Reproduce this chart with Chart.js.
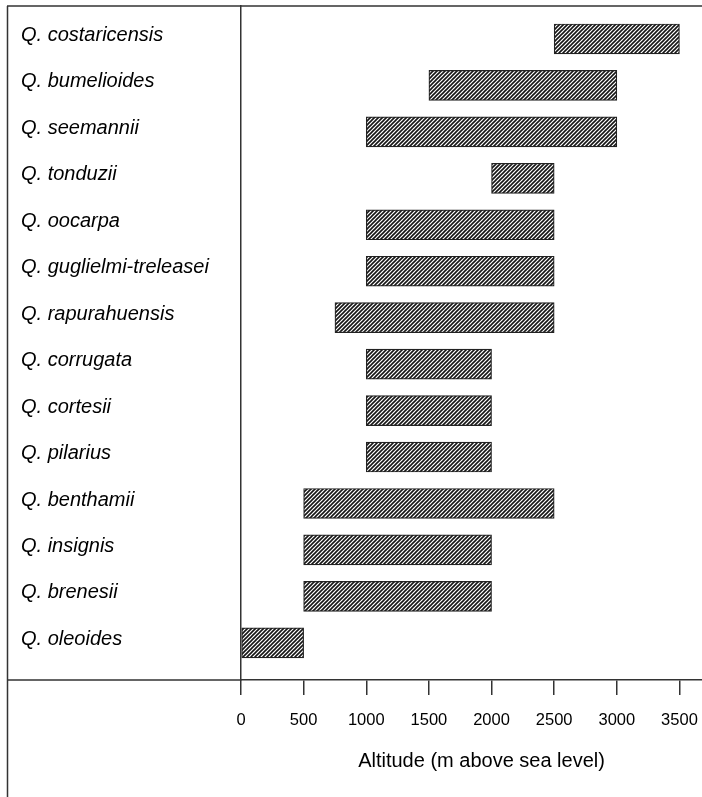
<!DOCTYPE html>
<html>
<head>
<meta charset="utf-8">
<script src="https://cdn.jsdelivr.net/npm/chart.js@4/dist/chart.umd.min.js"></script>
<style>
  html, body { margin: 0; padding: 0; background: #fff; }
  #wrap { width: 702px; height: 797px; position: relative; }
</style>
</head>
<body>
<div id="wrap"><canvas id="c" width="702" height="797"></canvas></div>
<script>
// Oak species of Costa Rica and their altitudinal ranges (m a.s.l.)
const species = [
  'Q. costaricensis', 'Q. bumelioides', 'Q. seemannii', 'Q. tonduzii',
  'Q. oocarpa', 'Q. guglielmi-treleasei', 'Q. rapurahuensis', 'Q. corrugata',
  'Q. cortesii', 'Q. pilarius', 'Q. benthamii', 'Q. insignis',
  'Q. brenesii', 'Q. oleoides'
];
const lowAltitude  = [2500, 1500, 1000, 2000, 1000, 1000, 750, 1000, 1000, 1000, 500, 500, 500, 0];
const highAltitude = [3500, 3000, 3000, 2500, 2500, 2500, 2500, 2000, 2000, 2000, 2500, 2000, 2000, 500];
const altitudeTicks = [0, 500, 1000, 1500, 2000, 2500, 3000, 3500];
const axisTitle = 'Altitude (m above sea level)';

const FONT = "'Liberation Sans', Arial, sans-serif";
const LINE = '#333333';
const TITLE_SPAN = 3840; // axis title is centred over 0..3840 m

// diagonal hatch fill
function hatchPattern() {
  const s = 4;
  const tile = document.createElement('canvas');
  tile.width = s; tile.height = s;
  const t = tile.getContext('2d');
  t.fillStyle = '#ffffff';
  t.fillRect(0, 0, s, s);
  t.strokeStyle = '#151515';
  t.lineWidth = 1.6;
  t.beginPath();
  t.moveTo(-1, s + 1); t.lineTo(s + 1, -1);
  t.moveTo(-1, 1); t.lineTo(1, -1);
  t.moveTo(s - 1, s + 1); t.lineTo(s + 1, s - 1);
  t.stroke();
  return t.createPattern(tile, 'repeat');
}

// outer frame (left rule, top rule, separator under the species list) and the axis title
const framePlugin = {
  id: 'frame',
  afterDraw(chart) {
    const ctx = chart.ctx;
    const area = chart.chartArea;
    const xs = chart.scales.x;
    ctx.save();
    ctx.strokeStyle = LINE;
    ctx.lineWidth = 1.5;
    ctx.beginPath();
    ctx.moveTo(7.5, area.top);
    ctx.lineTo(7.5, chart.height);
    ctx.moveTo(7, area.top);
    ctx.lineTo(chart.width, area.top);
    ctx.moveTo(7, area.bottom);
    ctx.lineTo(area.left, area.bottom);
    ctx.stroke();

    ctx.fillStyle = '#000';
    ctx.font = '20px ' + FONT;
    ctx.textAlign = 'center';
    ctx.textBaseline = 'middle';
    ctx.fillText(axisTitle, xs.getPixelForValue(TITLE_SPAN / 2), xs.bottom - 36);
    ctx.restore();
  }
};

const rows = species.map((name, i) => ({ y: i, x: [lowAltitude[i], highAltitude[i]] }));

new Chart(document.getElementById('c'), {
  type: 'bar',
  data: {
    datasets: [{
      data: rows,
      backgroundColor: hatchPattern(),
      borderColor: '#222222',
      borderWidth: 1.2,
      borderSkipped: false,
      barThickness: 30
    }]
  },
  options: {
    indexAxis: 'y',
    responsive: false,
    animation: false,
    devicePixelRatio: 1,
    layout: { padding: { left: 21, top: 6, right: 0, bottom: 0 } },
    plugins: { legend: { display: false }, tooltip: { enabled: false } },
    scales: {
      y: {
        type: 'linear',
        reverse: true,
        offset: false,
        min: -0.71,
        max: 13.8,
        afterBuildTicks: (scale) => { scale.ticks = species.map((_, i) => ({ value: i })); },
        afterFit: (scale) => {
          scale.width = 220;
          scale.paddingTop = 0;
          scale.paddingBottom = 0;
        },
        grid: { display: false, offset: false },
        border: { display: true, color: LINE, width: 1.5 },
        ticks: {
          crossAlign: 'far',
          labelOffset: -3.5,
          color: '#000',
          font: { family: FONT, size: 20, style: 'italic' },
          callback: (v) => species[v]
        }
      },
      x: {
        type: 'linear',
        position: 'bottom',
        min: 0,
        max: 3680,
        afterBuildTicks: (scale) => { scale.ticks = altitudeTicks.map(v => ({ value: v })); },
        afterFit: (scale) => {
          scale.height = 117;
          scale.paddingLeft = 0;
          scale.paddingRight = 0;
        },
        grid: { drawOnChartArea: false, drawTicks: true, tickLength: 15, color: LINE, lineWidth: 1.5 },
        border: { display: true, color: LINE, width: 1.5 },
        ticks: {
          padding: 16,
          maxRotation: 0,
          color: '#000',
          font: { family: FONT, size: 16.5 },
          callback: (v) => String(v)
        },
        title: { display: false }
      }
    }
  },
  plugins: [framePlugin]
});
</script>
</body>
</html>
